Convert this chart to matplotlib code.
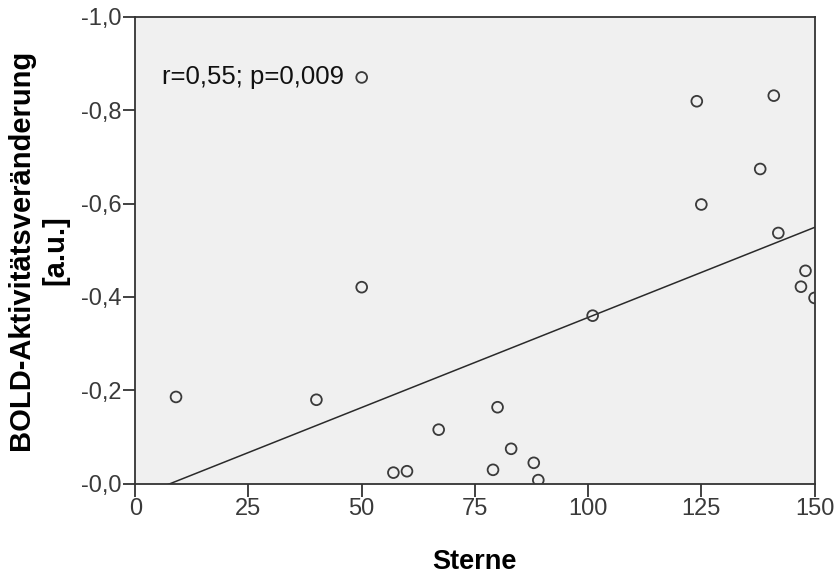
import numpy as np
import matplotlib
matplotlib.use("Agg")
import matplotlib.pyplot as plt

plt.rcParams['font.family'] = ['Liberation Sans', 'DejaVu Sans']

# Sterne vs. BOLD-Aktivitätsveränderung
sterne = [9, 40, 50, 50, 57, 60, 67, 79, 80, 83, 88, 89, 101,
          124, 125, 138, 141, 142, 147, 148, 150]
bold = [-0.186, -0.180, -0.870, -0.421, -0.024, -0.027, -0.116, -0.030,
        -0.164, -0.075, -0.045, -0.008, -0.360,
        -0.819, -0.598, -0.674, -0.831, -0.537, -0.422, -0.456, -0.398]

# Regressionsgerade (aus SPSS)
fit_intercept = 0.0293
fit_slope = -0.003855

x_ticks = [0, 25, 50, 75, 100, 125, 150]
y_ticks = [0.0, -0.2, -0.4, -0.6, -0.8, -1.0]
y_labels = ['-0,0', '-0,2', '-0,4', '-0,6', '-0,8', '-1,0']
stat_text = 'r=0,55; p=0,009'

fig = plt.figure(figsize=(8.35, 5.76), dpi=100)
ax = fig.add_axes([0.162, 0.16, 0.8135, 0.811])
ax.set_facecolor('#f0f0f0')

ax.scatter(sterne, bold, s=60, facecolors='none', edgecolors='#3a3a3a',
           linewidths=1.3, zorder=3)

xs = np.array([0, 150])
ax.plot(xs, fit_intercept + fit_slope * xs, color='#2a2a2a', lw=1.1, zorder=2)

ax.set_xlim(0, 150)
ax.set_ylim(0, -1)
ax.set_xticks(x_ticks)
ax.set_xticklabels([str(t) for t in x_ticks])
ax.set_yticks(y_ticks)
ax.set_yticklabels(y_labels)

for sp in ax.spines.values():
    sp.set_color('#333333')
    sp.set_linewidth(1.3)
ax.tick_params(direction='out', length=9, width=1.3, color='#333333',
               labelsize=17, labelcolor='#3a3a3a', pad=1)

ax.text(6, -0.871, stat_text, fontsize=18.5, va='center', ha='left', color='#111111')

ax.set_xlabel('Sterne', fontsize=19.5, fontweight='bold', labelpad=21)
ax.set_ylabel('BOLD-Aktivitätsveränderung\n[a.u.]', fontsize=21,
              fontweight='bold', labelpad=8, linespacing=1.3)

fig.savefig('out.png', dpi=100)
